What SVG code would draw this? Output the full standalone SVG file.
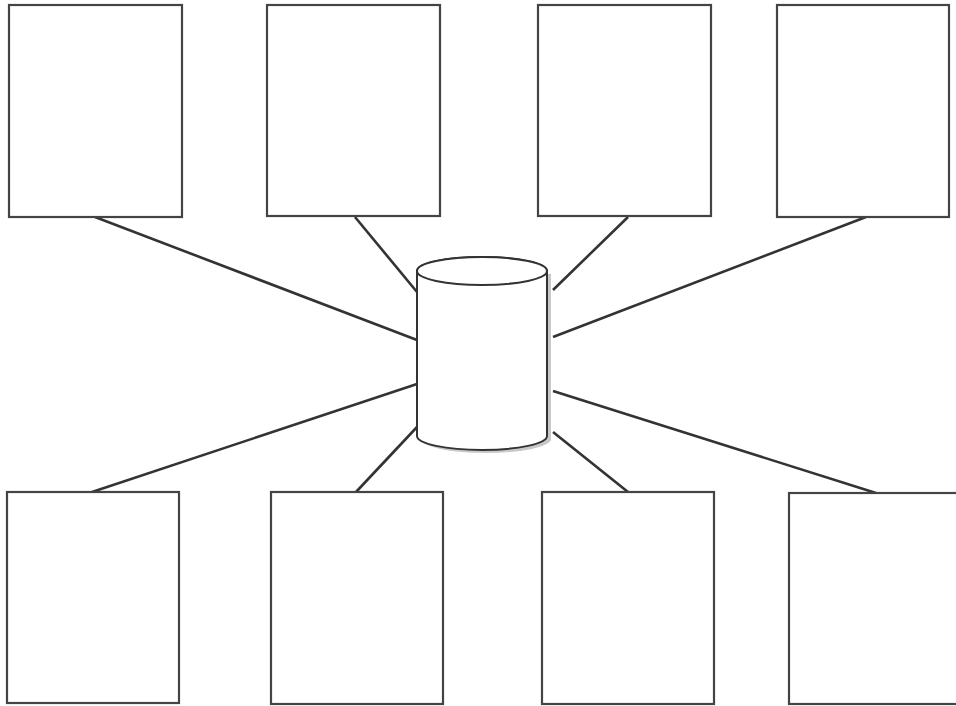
<svg xmlns="http://www.w3.org/2000/svg" width="956" height="706" viewBox="0 0 956 706">
<defs>
<style>
.box{fill:#fff;stroke:#444;stroke-width:2.2}
.conn{stroke:#333;stroke-width:2.6;fill:none}
.cyl{fill:#fff;stroke:#333;stroke-width:2}
.shadow{fill:#c8c8c8}
</style>
</defs>
<rect width="956" height="706" fill="#fff"/>
<g id="connectors">
<line class="conn" x1="95" y1="217" x2="417" y2="340"/>
<line class="conn" x1="355" y1="217" x2="417" y2="292"/>
<line class="conn" x1="628" y1="217" x2="553" y2="290"/>
<line class="conn" x1="866" y1="217" x2="553" y2="337"/>
<line class="conn" x1="92" y1="492" x2="417" y2="384"/>
<line class="conn" x1="356" y1="492" x2="417" y2="427"/>
<line class="conn" x1="628" y1="492" x2="553" y2="432"/>
<line class="conn" x1="876" y1="493" x2="553" y2="391"/>
</g>
<g id="box-t1"><rect class="box" x="9" y="5" width="173" height="212"/></g>
<g id="box-t2"><rect class="box" x="267" y="5" width="173" height="211"/></g>
<g id="box-t3"><rect class="box" x="538" y="5" width="173" height="211"/></g>
<g id="box-t4"><rect class="box" x="777" y="5" width="172" height="212"/></g>
<g id="box-b1"><rect class="box" x="7" y="492" width="172" height="211"/></g>
<g id="box-b2"><rect class="box" x="271" y="492" width="172" height="212"/></g>
<g id="box-b3"><rect class="box" x="542" y="492" width="172" height="212"/></g>
<g id="box-b4"><rect class="box" x="789" y="493" width="172" height="211"/></g>
<g id="database">
<path class="shadow" d="M547 274 L551 274 L551 439 A65 14 0 0 1 486 453 A65 14 0 0 1 421 439 L547 439 Z"/>
<path class="cyl" d="M417 271 L417 436 A65 14 0 0 0 547 436 L547 271 A65 14 0 0 0 417 271 Z"/>
<ellipse class="cyl" cx="482" cy="271" rx="65" ry="14"/>
</g>
</svg>
